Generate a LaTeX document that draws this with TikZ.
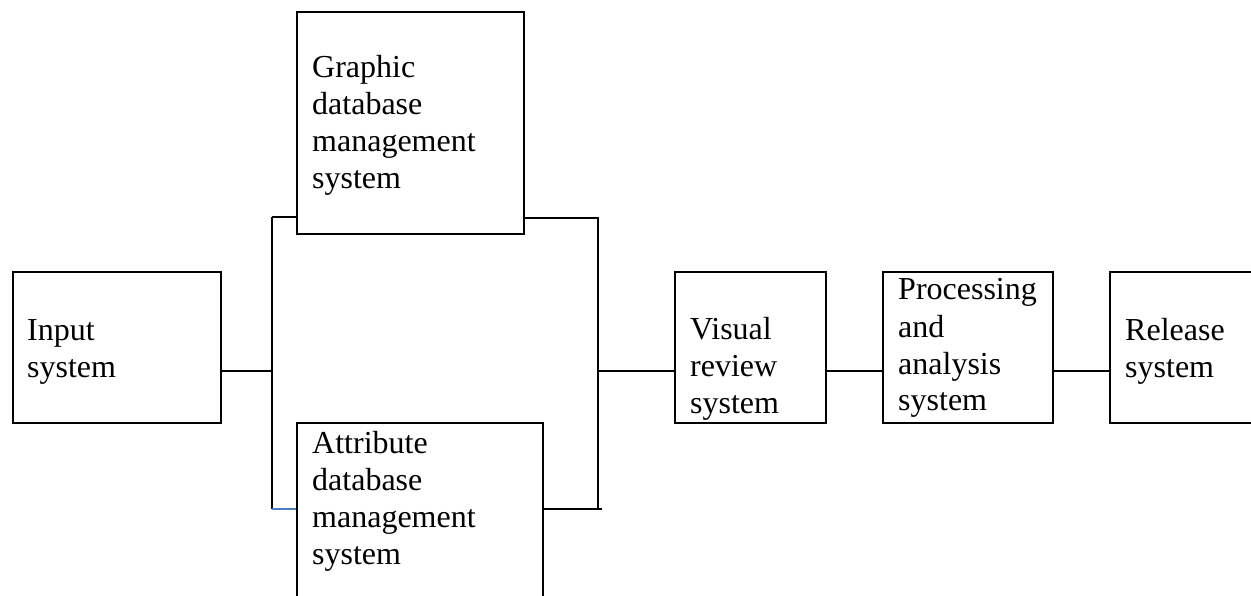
\documentclass[tikz,border=0pt]{standalone}
\usepackage{fontspec}
\setmainfont{Liberation Serif}
\definecolor{stubblue}{HTML}{4A7EC4}
\begin{document}
\begin{tikzpicture}[x=1pt,y=-1pt,
  boxst/.style={draw,line width=2.5pt,inner sep=0pt},
  txt/.style={anchor=base west,inner sep=0pt,font=\fontsize{32}{37}\selectfont},
  wire/.style={line width=2.5pt}]
\useasboundingbox (0,0) rectangle (1251,596);
% boxes
\node[boxst,minimum width=208pt,minimum height=151pt] (inp) at (117,347.5) {};
\node[boxst,minimum width=227pt,minimum height=222pt] (gr) at (410.5,123) {};
\node[boxst,minimum width=246pt,minimum height=200pt] (at) at (420,523) {};
\node[boxst,minimum width=151pt,minimum height=151pt] (vis) at (750.5,347.5) {};
\node[boxst,minimum width=170pt,minimum height=151pt] (proc) at (968,347.5) {};
\node[boxst,minimum width=180pt,minimum height=151pt] (rel) at (1200,347.5) {};
% texts
\node[txt] (tinp) at (27,340) {\vtop{\hbox{Input}\hbox{system}}};
\node[txt] (tgr) at (312,78) {\vtop{\hbox{Graphic}\hbox{database}\hbox{management}\hbox{system}}};
\node[txt] (tat) at (312,453) {\vtop{\hbox{Attribute}\hbox{database}\hbox{management}\hbox{system}}};
\node[txt] (tvis) at (690,339) {\vtop{\hbox{Visual}\hbox{review}\hbox{system}}};
\node[txt] (tproc) at (898,300) {\vtop{\hbox{Processing}\hbox{and}\hbox{analysis}\hbox{system}}};
\node[txt] (trel) at (1125,340) {\vtop{\hbox{Release}\hbox{system}}};
% junction points
\coordinate (jLt) at (272,217);
\coordinate (jLm) at (272,371);
\coordinate (jLb) at (272,509);
\coordinate (jRt) at (598,218);
\coordinate (jRm) at (598,371);
\coordinate (jRb) at (598,509);
\coordinate (jRbe) at (602,509);
% connectors
\draw[wire] (inp.east |- jLm) -- (jLm);
\draw[wire] (jLt) -- (jLb);
\draw[wire] (jLt) -- (jLt -| gr.west);
\draw[line width=2pt,stubblue] (jLb) -- (jLb -| at.west);
\draw[wire] (gr.east |- jRt) -- (jRt) -- (jRb);
\draw[wire] (at.east |- jRbe) -- (jRbe);
\draw[wire] (jRm) -- (vis.west |- jRm);
\draw[wire] (vis.east |- jRm) -- (proc.west |- jRm);
\draw[wire] (proc.east |- jRm) -- (rel.west |- jRm);
\end{tikzpicture}
\end{document}
